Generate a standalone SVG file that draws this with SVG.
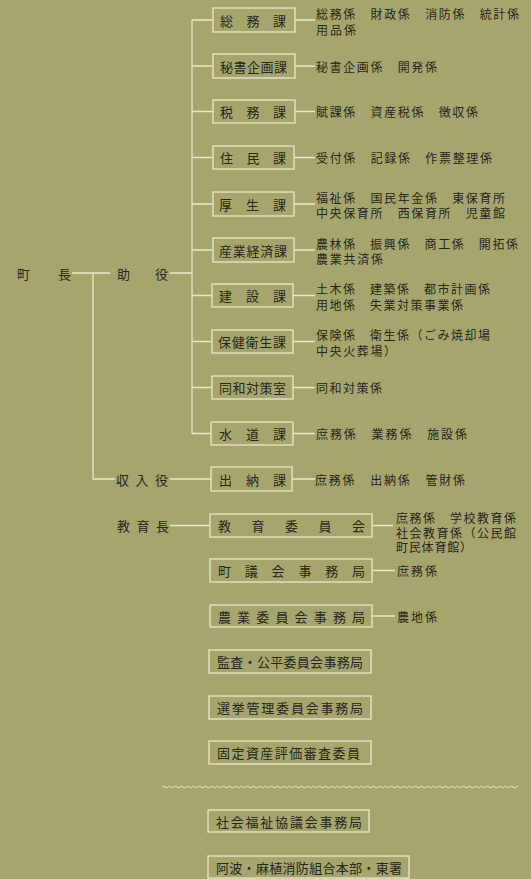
<svg xmlns="http://www.w3.org/2000/svg" width="531" height="879" viewBox="0 0 531 879">
<style>
.bg{fill:#a7a56e}
.box{fill:none;stroke:#ebe7cb;stroke-width:1.3}
.ln{stroke:#ebe7cb;stroke-width:1.3;fill:none}
text{font-family:"Noto Sans CJK JP","Noto Sans CJK SC",sans-serif;fill:#26251a;dominant-baseline:central}
.bt{font-size:13px}
.st{font-size:12px}
.lt{font-size:13px}
</style>
<defs>
<pattern id="wave" patternUnits="userSpaceOnUse" x="162" y="785" width="6" height="4">
<path d="M0 2 Q1.5 0.5 3 2 T6 2" fill="none" stroke="#ebe7cb" stroke-width="1"/>
</pattern>
</defs>
<rect class="bg" x="0" y="0" width="531" height="879"/>

<g id="connectors">
<path class="ln" d="M72 273H110M93 273V479H115M170 479H211M170 273H192M192 20V433.5"/>
<path class="ln" d="M192 20H213M192 66H213M192 111.5H213M192 157.5H213M192 204H213M192 250H213M192 295.5H212M192 341.5H212M192 387.5H212M192 433.5H211"/>
<path class="ln" d="M295 20H315M295 66H315M295 111.5H315M294 157.5H315M294 204H315M294 250H315M293 295.5H315M293 341.5H315M293 387.5H315M293 433.5H315M292 479H315"/>
<path class="ln" d="M170 525.5H210M372 525.5H393M372 570.5H395M372 616H395"/>
<rect x="162" y="785" width="356" height="4" fill="url(#wave)"/>
</g>

<g id="chouchou"><text class="lt" x="17" y="273">町</text><text class="lt" x="58" y="273">長</text></g>
<g id="joyaku"><text class="lt" x="117" y="273">助</text><text class="lt" x="155" y="273">役</text></g>
<g id="shunyuyaku"><text class="lt" x="116" y="479" textLength="52" lengthAdjust="spacing">収入役</text></g>
<g id="kyoikucho"><text class="lt" x="117" y="525.5" textLength="52" lengthAdjust="spacing">教育長</text></g>

<g id="somuka"><rect class="box" x="213" y="8" width="82" height="24"/><text class="bt" x="220 246.5 273" y="20">総務課</text>
<text class="st" x="316" y="13" textLength="203" lengthAdjust="spacing">総務係　財政係　消防係　統計係</text>
<text class="st" x="316" y="29" textLength="40" lengthAdjust="spacing">用品係</text></g>

<g id="hisho"><rect class="box" x="213" y="54" width="82" height="24"/><text class="bt" x="220" y="66" textLength="67" lengthAdjust="spacing">秘書企画課</text>
<text class="st" x="316" y="66" textLength="121" lengthAdjust="spacing">秘書企画係　開発係</text></g>

<g id="zeimu"><rect class="box" x="213" y="100" width="82" height="23"/><text class="bt" x="220 246.5 273" y="111.5">税務課</text>
<text class="st" x="316" y="111.5" textLength="162" lengthAdjust="spacing">賦課係　資産税係　徴収係</text></g>

<g id="jumin"><rect class="box" x="213" y="146" width="81" height="23"/><text class="bt" x="220 246.5 273" y="157.5">住民課</text>
<text class="st" x="316" y="157.5" textLength="176" lengthAdjust="spacing">受付係　記録係　作票整理係</text></g>

<g id="kosei"><rect class="box" x="213" y="192" width="81" height="24"/><text class="bt" x="219 246 273" y="204">厚生課</text>
<text class="st" x="316" y="197.5" textLength="189" lengthAdjust="spacing">福祉係　国民年金係　東保育所</text>
<text class="st" x="316" y="212.5" textLength="189" lengthAdjust="spacing">中央保育所　西保育所　児童館</text></g>

<g id="sangyo"><rect class="box" x="213" y="238" width="81" height="24"/><text class="bt" x="219" y="250" textLength="68" lengthAdjust="spacing">産業経済課</text>
<text class="st" x="316" y="243" textLength="202" lengthAdjust="spacing">農林係　振興係　商工係　開拓係</text>
<text class="st" x="316" y="258" textLength="67" lengthAdjust="spacing">農業共済係</text></g>

<g id="kensetsu"><rect class="box" x="212" y="284" width="81" height="23"/><text class="bt" x="219 246 273" y="295.5">建設課</text>
<text class="st" x="316" y="288.5" textLength="174" lengthAdjust="spacing">土木係　建築係　都市計画係</text>
<text class="st" x="316" y="304" textLength="147" lengthAdjust="spacing">用地係　失業対策事業係</text></g>

<g id="hoken"><rect class="box" x="212" y="330" width="81" height="23"/><text class="bt" x="218" y="341.5" textLength="68" lengthAdjust="spacing">保健衛生課</text>
<text class="st" x="316" y="334" textLength="174" lengthAdjust="spacing">保険係　衛生係（ごみ焼却場</text>
<text class="st" x="316" y="350" textLength="80" lengthAdjust="spacing">中央火葬場）</text></g>

<g id="dowa"><rect class="box" x="212" y="376" width="81" height="23"/><text class="bt" x="219" y="387.5" textLength="67" lengthAdjust="spacing">同和対策室</text>
<text class="st" x="316" y="387.5" textLength="66" lengthAdjust="spacing">同和対策係</text></g>

<g id="suido"><rect class="box" x="211" y="422" width="82" height="23"/><text class="bt" x="219 246 273" y="433.5">水道課</text>
<text class="st" x="316" y="433.5" textLength="151" lengthAdjust="spacing">庶務係　業務係　施設係</text></g>

<g id="suito"><rect class="box" x="211" y="467" width="81" height="24"/><text class="bt" x="219 246 273" y="479">出納課</text>
<text class="st" x="315" y="479" textLength="150" lengthAdjust="spacing">庶務係　出納係　管財係</text></g>

<g id="kyoiku"><rect class="box" x="210" y="514" width="162" height="23"/><text class="bt" x="218 251.5 285 318.5 352" y="525.5">教育委員会</text>
<text class="st" x="396" y="517" textLength="120" lengthAdjust="spacing">庶務係　学校教育係</text>
<text class="st" x="396" y="532" textLength="120" lengthAdjust="spacing">社会教育係（公民館</text>
<text class="st" x="396" y="546" textLength="76" lengthAdjust="spacing">町民体育館）</text></g>

<g id="gikai"><rect class="box" x="210" y="559" width="162" height="23"/><text class="bt" x="218 244.8 271.6 298.4 325.2 352" y="570.5">町議会事務局</text>
<text class="st" x="397" y="570.5" textLength="40" lengthAdjust="spacing">庶務係</text></g>

<g id="nogyo"><rect class="box" x="210" y="605" width="162" height="22"/><text class="bt" x="218 237.1 256.3 275.4 294.6 313.7 332.9 352" y="616">農業委員会事務局</text>
<text class="st" x="397" y="616" textLength="40" lengthAdjust="spacing">農地係</text></g>

<g id="kansa"><rect class="box" x="209" y="650" width="162" height="23"/><text class="bt" x="217" y="661.5" textLength="146" lengthAdjust="spacing">監査・公平委員会事務局</text></g>

<g id="senkyo"><rect class="box" x="209" y="696" width="162" height="23"/><text class="bt" x="217" y="707.5" textLength="146" lengthAdjust="spacing">選挙管理委員会事務局</text></g>

<g id="kotei"><rect class="box" x="209" y="741" width="162" height="23"/><text class="bt" x="217" y="752.5" textLength="143" lengthAdjust="spacing">固定資産評価審査委員</text></g>

<g id="shakyo"><rect class="box" x="208" y="810" width="161" height="22"/><text class="bt" x="216" y="821" textLength="146" lengthAdjust="spacing">社会福祉協議会事務局</text></g>

<g id="shobo"><rect class="box" x="208" y="856" width="201" height="22"/><text class="bt" x="216" y="867" textLength="186" lengthAdjust="spacing">阿波・麻植消防組合本部・東署</text></g>
</svg>
